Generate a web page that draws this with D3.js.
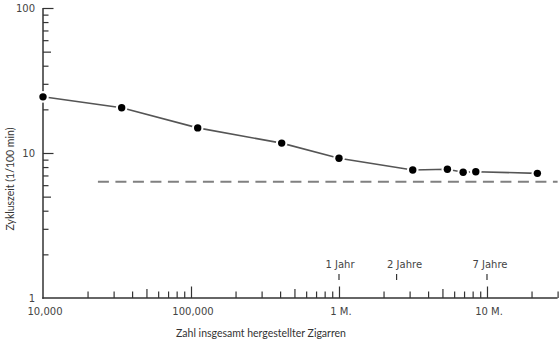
<!DOCTYPE html>
<html>
<head>
<meta charset="utf-8">
<script src="https://cdn.jsdelivr.net/npm/d3@7/dist/d3.min.js"></script>
<style>
  html, body { margin: 0; padding: 0; background: #fff; }
  svg { display: block; }
</style>
</head>
<body>
<svg id="chart" width="560" height="344"></svg>
<script>
// Cumulative cigars produced vs. cycle time (learning curve)
const produced   = [10000, 34000, 111000, 410000, 1000000, 3150000, 5400000, 6900000, 8400000, 21900000];
const cycleTime  = [24.4, 20.5, 14.9, 11.7, 9.2, 7.64, 7.72, 7.36, 7.43, 7.24];

// Asymptotic limit (dashed)
const limitFrom  = 23500;
const limitTo    = 30000000;
const limitValue = 6.34;

// Tick labels
const xTickValues = [10000, 100000, 1000000, 10000000];
const xTickLabels = ["10,000", "100,000", "1 M.", "10 M."];
const yTickValues = [1, 10, 100];
const yTickLabels = ["1", "10", "100"];

// Year markers along the production axis
const yearCounts = [1000000, 2450000, 10000000];
const yearLabels = ["1 Jahr", "2 Jahre", "7 Jahre"];
const yearLabelShift = [1, 8, 3];

const xTitle = "Zahl insgesamt hergestellter Zigarren";
const yTitle = "Zykluszeit (1/100 min)";

const svg = d3.select("#chart");
const axisColor = "#333";
const labelFont = "'DejaVu Sans', sans-serif";
const titleFont = "Lato, 'Open Sans', sans-serif";

const x = d3.scaleLog().domain([1e4, 3e7]).range([43, 557.6]);
const y = d3.scaleLog().domain([1, 100]).range([298, 8]);

// tick length by leading digit: decades long, fives medium, rest short
function tickLen(d) {
  const lead = Math.round(d / Math.pow(10, Math.floor(Math.log10(d) + 1e-9)));
  if (lead === 1) return 11.5;
  if (lead === 5) return 9;
  return 6.5;
}

// X axis
const xAxis = d3.axisBottom(x)
  .tickValues(x.ticks().filter(d => d > 1e4))
  .tickSizeOuter(0)
  .tickFormat("");
const gx = svg.append("g").attr("transform", "translate(0,298)").call(xAxis);
gx.select(".domain").attr("stroke", axisColor).attr("stroke-width", 1.5)
  .attr("d", `M${x.range()[0] - 0.75},0H${x.range()[1]}`);
gx.selectAll(".tick line").attr("stroke", axisColor).attr("stroke-width", 1.2)
  .attr("y2", d => -tickLen(d));

svg.append("g").selectAll("text").data(xTickValues).join("text")
  .attr("x", (d) => x(d) + 2)
  .attr("y", 315)
  .attr("text-anchor", "middle")
  .attr("font-family", labelFont)
  .attr("font-size", 10)
  .attr("fill", "#444")
  .text((d, i) => xTickLabels[i]);

// Y axis
const yAxis = d3.axisLeft(y)
  .tickValues(y.ticks().filter(d => d > 1))
  .tickSizeOuter(0)
  .tickFormat("");
const gy = svg.append("g").attr("transform", "translate(43,0)").call(yAxis);
gy.select(".domain").attr("stroke", axisColor).attr("stroke-width", 1.5)
  .attr("d", `M0,${y.range()[1]}V${y.range()[0] + 0.75}`);
gy.selectAll(".tick line").attr("stroke", axisColor).attr("stroke-width", 1.2)
  .attr("x2", d => tickLen(d) - 1);

svg.append("g").selectAll("text").data(yTickValues).join("text")
  .attr("x", 35)
  .attr("y", d => y(d))
  .attr("dy", "0.35em")
  .attr("text-anchor", "end")
  .attr("font-family", labelFont)
  .attr("font-size", 10)
  .attr("fill", "#444")
  .text((d, i) => yTickLabels[i]);

// Limit line
svg.append("line")
  .attr("x1", x(limitFrom)).attr("x2", x(limitTo))
  .attr("y1", y(limitValue)).attr("y2", y(limitValue))
  .attr("stroke", "#808080")
  .attr("stroke-width", 2)
  .attr("stroke-dasharray", "11,6.5");

// Curve
const pts = produced.map((p, i) => [p, cycleTime[i]]);
svg.append("path")
  .datum(pts)
  .attr("fill", "none")
  .attr("stroke", "#555")
  .attr("stroke-width", 1.6)
  .attr("d", d3.line().x(d => x(d[0])).y(d => y(d[1])));

// Points: white halo keeps a small gap between curve and dot
const dots = svg.append("g");
dots.selectAll("circle.halo").data(pts).join("circle")
  .attr("class", "halo")
  .attr("cx", d => x(d[0]))
  .attr("cy", d => y(d[1]))
  .attr("r", 5.8)
  .attr("fill", "#fff");
dots.selectAll("circle.dot").data(pts).join("circle")
  .attr("class", "dot")
  .attr("cx", d => x(d[0]))
  .attr("cy", d => y(d[1]))
  .attr("r", 3.7)
  .attr("fill", "#000");

// Year markers
const yr = svg.append("g");
yr.selectAll("line").data(yearCounts).join("line")
  .attr("x1", d => x(d)).attr("x2", d => x(d))
  .attr("y1", 274).attr("y2", 280)
  .attr("stroke", axisColor).attr("stroke-width", 1.2);
yr.selectAll("text").data(yearCounts).join("text")
  .attr("x", (d, i) => x(d) + yearLabelShift[i])
  .attr("y", 268)
  .attr("text-anchor", "middle")
  .attr("font-family", labelFont)
  .attr("font-size", 10)
  .attr("fill", "#444")
  .text((d, i) => yearLabels[i]);

// Axis titles
svg.append("text")
  .attr("x", 261).attr("y", 337)
  .attr("text-anchor", "middle")
  .attr("font-family", titleFont)
  .attr("font-size", 10.5)
  .attr("fill", "#333")
  .text(xTitle);

svg.append("text")
  .attr("transform", "translate(14,179) rotate(-90)")
  .attr("text-anchor", "middle")
  .attr("font-family", titleFont)
  .attr("font-size", 10.5)
  .attr("fill", "#333")
  .text(yTitle);
</script>
</body>
</html>
